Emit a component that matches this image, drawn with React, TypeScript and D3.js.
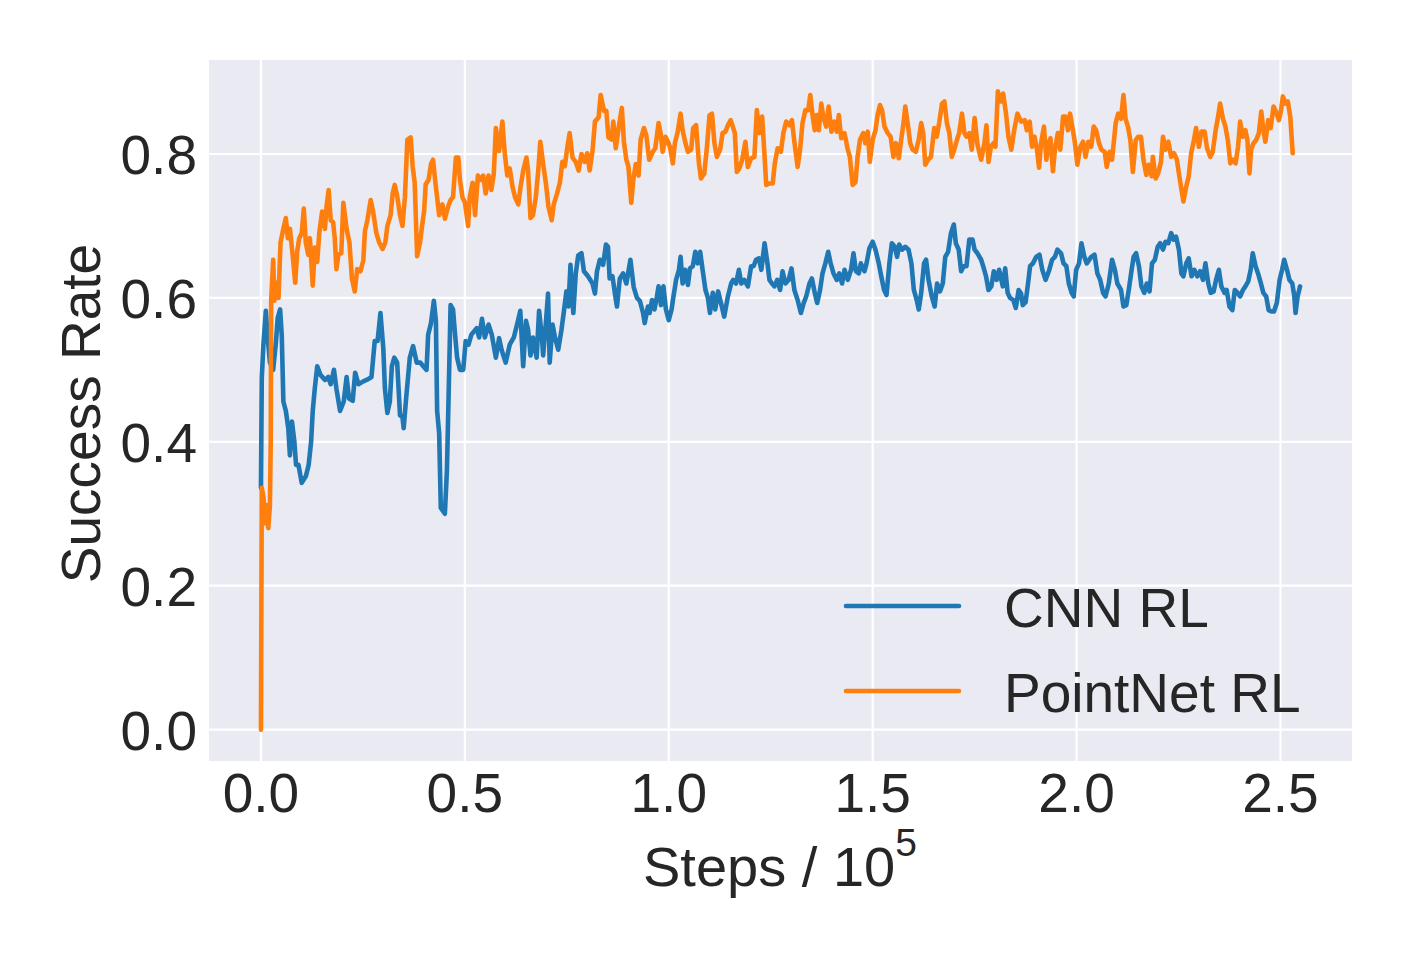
import React from 'react';
import * as d3 from 'd3';

// values: [steps / 1e5, success rate]
const cnnRL: [number, number][] = [
  [0.000, 0.336], [0.002, 0.488], [0.006, 0.535], [0.012, 0.582], [0.016, 0.548], [0.022, 0.51],
  [0.030, 0.50], [0.037, 0.54], [0.041, 0.572], [0.047, 0.584], [0.051, 0.548], [0.055, 0.456],
  [0.061, 0.443], [0.067, 0.419], [0.071, 0.381], [0.076, 0.428], [0.082, 0.40], [0.086, 0.368],
  [0.092, 0.368], [0.100, 0.343], [0.110, 0.352], [0.117, 0.368], [0.123, 0.40], [0.127, 0.443],
  [0.132, 0.474], [0.138, 0.505], [0.146, 0.493], [0.157, 0.486], [0.165, 0.49], [0.171, 0.48],
  [0.179, 0.50], [0.185, 0.474], [0.194, 0.443], [0.203, 0.456], [0.210, 0.49], [0.216, 0.46],
  [0.225, 0.457], [0.231, 0.496], [0.239, 0.48], [0.251, 0.484], [0.263, 0.487], [0.271, 0.49],
  [0.279, 0.54], [0.286, 0.54], [0.293, 0.579], [0.300, 0.53], [0.304, 0.474], [0.310, 0.44],
  [0.316, 0.456], [0.321, 0.505], [0.327, 0.517], [0.334, 0.51], [0.341, 0.437], [0.347, 0.434],
  [0.350, 0.419], [0.357, 0.467], [0.365, 0.517], [0.373, 0.533], [0.382, 0.51], [0.391, 0.51],
  [0.398, 0.505], [0.406, 0.50], [0.410, 0.549], [0.417, 0.565], [0.424, 0.596], [0.429, 0.568],
  [0.432, 0.443], [0.437, 0.412], [0.441, 0.308], [0.451, 0.30], [0.456, 0.36], [0.460, 0.46],
  [0.465, 0.59], [0.471, 0.584], [0.476, 0.549], [0.481, 0.517], [0.488, 0.50], [0.496, 0.50],
  [0.502, 0.54], [0.509, 0.535], [0.516, 0.549], [0.529, 0.558], [0.535, 0.545], [0.542, 0.571],
  [0.549, 0.545], [0.558, 0.563], [0.566, 0.549], [0.576, 0.517], [0.584, 0.544], [0.590, 0.528],
  [0.600, 0.51], [0.610, 0.535], [0.620, 0.545], [0.628, 0.563], [0.636, 0.582], [0.643, 0.505],
  [0.650, 0.568], [0.655, 0.556], [0.661, 0.52], [0.667, 0.545], [0.676, 0.517], [0.682, 0.582],
  [0.689, 0.545], [0.692, 0.52], [0.699, 0.568], [0.704, 0.606], [0.708, 0.51], [0.715, 0.563],
  [0.721, 0.545], [0.729, 0.528], [0.737, 0.556], [0.743, 0.582], [0.749, 0.609], [0.754, 0.588],
  [0.759, 0.646], [0.766, 0.579], [0.772, 0.634], [0.778, 0.659], [0.786, 0.662], [0.792, 0.637],
  [0.802, 0.63], [0.813, 0.62], [0.819, 0.606], [0.824, 0.637], [0.831, 0.653], [0.839, 0.646],
  [0.846, 0.674], [0.851, 0.671], [0.855, 0.627], [0.862, 0.63], [0.868, 0.606], [0.873, 0.588],
  [0.880, 0.627], [0.888, 0.634], [0.896, 0.62], [0.906, 0.653], [0.914, 0.615], [0.922, 0.60],
  [0.929, 0.596], [0.937, 0.579], [0.941, 0.565], [0.949, 0.588],
  [0.953, 0.579], [0.959, 0.597], [0.965, 0.584], [0.971, 0.602], [0.975, 0.616], [0.981, 0.59],
  [0.987, 0.616], [0.993, 0.584], [1.000, 0.569], [1.007, 0.584], [1.011, 0.60], [1.018, 0.625],
  [1.025, 0.639], [1.029, 0.657], [1.034, 0.62], [1.040, 0.639], [1.047, 0.618], [1.052, 0.641],
  [1.059, 0.644], [1.065, 0.664], [1.071, 0.648], [1.077, 0.664], [1.083, 0.639], [1.090, 0.611],
  [1.096, 0.60], [1.101, 0.579], [1.108, 0.607], [1.114, 0.584], [1.121, 0.609], [1.128, 0.593],
  [1.136, 0.574], [1.145, 0.602], [1.153, 0.62], [1.158, 0.625], [1.165, 0.62], [1.172, 0.639],
  [1.178, 0.62], [1.185, 0.625], [1.194, 0.616], [1.202, 0.644], [1.208, 0.644], [1.214, 0.653],
  [1.221, 0.655], [1.227, 0.639], [1.235, 0.676], [1.242, 0.648], [1.247, 0.625], [1.253, 0.62],
  [1.259, 0.616], [1.266, 0.625], [1.273, 0.611], [1.279, 0.637], [1.286, 0.62], [1.294, 0.625],
  [1.301, 0.641], [1.308, 0.611], [1.316, 0.597], [1.324, 0.579], [1.331, 0.593], [1.337, 0.602],
  [1.345, 0.62], [1.351, 0.627], [1.358, 0.607], [1.364, 0.593], [1.371, 0.611], [1.377, 0.634],
  [1.384, 0.648], [1.391, 0.664], [1.397, 0.648], [1.404, 0.634], [1.412, 0.625], [1.418, 0.634],
  [1.425, 0.62], [1.431, 0.639], [1.439, 0.625], [1.447, 0.639], [1.453, 0.662], [1.459, 0.637],
  [1.466, 0.634], [1.471, 0.648], [1.480, 0.637], [1.485, 0.648], [1.492, 0.669], [1.500, 0.678],
  [1.507, 0.667], [1.515, 0.648], [1.521, 0.63], [1.528, 0.611], [1.534, 0.604], [1.541, 0.648],
  [1.547, 0.676], [1.554, 0.671], [1.560, 0.657], [1.565, 0.674], [1.572, 0.667], [1.580, 0.671],
  [1.588, 0.667], [1.595, 0.648], [1.601, 0.611], [1.608, 0.597], [1.613, 0.584], [1.619, 0.607],
  [1.626, 0.648], [1.631, 0.653], [1.637, 0.625], [1.645, 0.602], [1.652, 0.588], [1.658, 0.62],
  [1.665, 0.609], [1.672, 0.62], [1.678, 0.657], [1.685, 0.664], [1.692, 0.69], [1.699, 0.702],
  [1.704, 0.676], [1.711, 0.667], [1.717, 0.637], [1.723, 0.644], [1.730, 0.644], [1.737, 0.681],
  [1.745, 0.681], [1.750, 0.667], [1.757, 0.662], [1.766, 0.653], [1.771, 0.644], [1.778, 0.63],
  [1.784, 0.611], [1.791, 0.616], [1.797, 0.637], [1.804, 0.625], [1.810, 0.639], [1.819, 0.616],
  [1.825, 0.641], [1.831, 0.607], [1.837, 0.60], [1.845, 0.597], [1.851, 0.586], [1.858, 0.611],
  [1.864, 0.606], [1.868, 0.590], [1.875, 0.594], [1.881, 0.620], [1.886, 0.644], [1.893, 0.648],
  [1.901, 0.657], [1.909, 0.660], [1.916, 0.639], [1.924, 0.625], [1.932, 0.637], [1.940, 0.653],
  [1.947, 0.657], [1.953, 0.667], [1.962, 0.662], [1.968, 0.648], [1.975, 0.644], [1.981, 0.620],
  [1.988, 0.607], [1.993, 0.602], [1.999, 0.639], [2.006, 0.648], [2.012, 0.676], [2.019, 0.657],
  [2.025, 0.648], [2.036, 0.657], [2.044, 0.660], [2.051, 0.634], [2.058, 0.625], [2.065, 0.607],
  [2.071, 0.602], [2.079, 0.620], [2.087, 0.653], [2.094, 0.639], [2.100, 0.620], [2.109, 0.611],
  [2.115, 0.588], [2.122, 0.590], [2.128, 0.611], [2.135, 0.639], [2.140, 0.657], [2.146, 0.662],
  [2.153, 0.644], [2.159, 0.616], [2.166, 0.607], [2.172, 0.620], [2.179, 0.609], [2.185, 0.648],
  [2.192, 0.653], [2.199, 0.671], [2.205, 0.676], [2.212, 0.667], [2.218, 0.678], [2.225, 0.676],
  [2.232, 0.690], [2.238, 0.681], [2.244, 0.685], [2.251, 0.667], [2.257, 0.634], [2.262, 0.630],
  [2.269, 0.648], [2.275, 0.655], [2.282, 0.630], [2.289, 0.639], [2.296, 0.630], [2.303, 0.637],
  [2.310, 0.625], [2.316, 0.648], [2.323, 0.620], [2.329, 0.607], [2.336, 0.609], [2.342, 0.625],
  [2.349, 0.639], [2.355, 0.616], [2.363, 0.607], [2.368, 0.611], [2.375, 0.588], [2.382, 0.583],
  [2.388, 0.611], [2.395, 0.607], [2.401, 0.602], [2.408, 0.611], [2.414, 0.616], [2.421, 0.623],
  [2.427, 0.639], [2.432, 0.662], [2.439, 0.644], [2.445, 0.634], [2.452, 0.620], [2.458, 0.607],
  [2.465, 0.602], [2.471, 0.583], [2.478, 0.581], [2.484, 0.581], [2.491, 0.593], [2.498, 0.625],
  [2.504, 0.639], [2.509, 0.653], [2.516, 0.639], [2.522, 0.625], [2.529, 0.620], [2.534, 0.602],
  [2.537, 0.579], [2.542, 0.602], [2.548, 0.616],
];

const pointNetRL: [number, number][] = [
  [0.000, 0.0], [0.002, 0.336], [0.006, 0.324], [0.010, 0.287], [0.014, 0.312], [0.018, 0.28],
  [0.022, 0.312], [0.024, 0.40], [0.025, 0.596], [0.030, 0.653], [0.033, 0.596], [0.038, 0.621],
  [0.043, 0.60], [0.048, 0.677], [0.055, 0.696], [0.061, 0.711], [0.066, 0.683], [0.071, 0.696],
  [0.078, 0.658], [0.084, 0.621], [0.089, 0.665], [0.094, 0.683], [0.100, 0.69], [0.105, 0.724],
  [0.110, 0.677], [0.116, 0.66], [0.120, 0.683], [0.127, 0.617], [0.132, 0.67], [0.138, 0.65],
  [0.143, 0.69], [0.150, 0.72], [0.157, 0.696], [0.161, 0.728], [0.166, 0.75], [0.171, 0.708],
  [0.177, 0.705], [0.181, 0.683], [0.185, 0.64], [0.190, 0.66], [0.197, 0.662], [0.202, 0.732],
  [0.210, 0.696], [0.217, 0.677], [0.223, 0.627], [0.230, 0.609], [0.236, 0.64], [0.244, 0.637],
  [0.251, 0.652], [0.255, 0.693], [0.261, 0.708], [0.269, 0.736], [0.275, 0.72], [0.283, 0.69],
  [0.290, 0.677], [0.298, 0.668], [0.305, 0.677], [0.310, 0.70], [0.318, 0.715], [0.323, 0.745],
  [0.328, 0.757], [0.334, 0.742], [0.341, 0.715], [0.347, 0.70], [0.353, 0.74], [0.359, 0.82],
  [0.367, 0.823], [0.372, 0.783], [0.377, 0.76], [0.383, 0.658], [0.390, 0.677], [0.395, 0.70],
  [0.400, 0.72], [0.404, 0.758], [0.411, 0.764], [0.417, 0.786], [0.422, 0.792], [0.427, 0.764],
  [0.432, 0.74], [0.437, 0.715], [0.445, 0.73], [0.451, 0.71], [0.459, 0.727], [0.465, 0.736],
  [0.471, 0.74], [0.478, 0.795], [0.484, 0.795], [0.488, 0.764], [0.494, 0.74], [0.500, 0.733],
  [0.508, 0.70], [0.512, 0.74], [0.519, 0.76], [0.525, 0.715], [0.532, 0.77], [0.538, 0.764],
  [0.545, 0.77], [0.551, 0.745], [0.558, 0.77], [0.565, 0.75], [0.571, 0.773], [0.576, 0.836],
  [0.584, 0.804], [0.592, 0.845], [0.598, 0.80], [0.604, 0.77], [0.610, 0.78], [0.617, 0.754],
  [0.623, 0.74], [0.631, 0.73], [0.636, 0.752], [0.643, 0.777], [0.651, 0.795], [0.655, 0.777],
  [0.661, 0.711], [0.667, 0.715], [0.674, 0.74], [0.680, 0.777], [0.685, 0.817], [0.692, 0.786],
  [0.699, 0.758], [0.705, 0.727], [0.713, 0.708], [0.718, 0.73], [0.726, 0.745], [0.733, 0.76],
  [0.739, 0.789], [0.745, 0.783], [0.751, 0.808], [0.757, 0.829], [0.764, 0.795], [0.772, 0.789],
  [0.779, 0.777], [0.786, 0.80], [0.794, 0.789], [0.800, 0.801], [0.806, 0.777], [0.813, 0.804],
  [0.819, 0.845], [0.828, 0.851], [0.833, 0.882], [0.841, 0.86], [0.847, 0.86], [0.852, 0.823],
  [0.860, 0.82], [0.864, 0.845], [0.870, 0.808], [0.877, 0.836], [0.885, 0.864], [0.890, 0.817],
  [0.896, 0.792], [0.901, 0.783], [0.908, 0.732], [0.913, 0.764], [0.919, 0.786], [0.926, 0.77],
  [0.931, 0.82], [0.939, 0.836], [0.945, 0.826], [0.952, 0.792],
  [0.961, 0.803], [0.967, 0.808], [0.975, 0.843], [0.980, 0.829], [0.985, 0.803], [0.992, 0.824],
  [0.998, 0.817], [1.003, 0.81], [1.010, 0.787], [1.015, 0.815], [1.022, 0.831], [1.029, 0.856],
  [1.034, 0.833], [1.041, 0.815], [1.047, 0.803], [1.055, 0.806], [1.060, 0.836], [1.067, 0.84],
  [1.074, 0.787], [1.079, 0.766], [1.087, 0.773], [1.093, 0.806], [1.100, 0.854], [1.106, 0.856],
  [1.112, 0.815], [1.118, 0.796], [1.126, 0.806], [1.132, 0.829], [1.139, 0.831], [1.145, 0.84],
  [1.152, 0.847], [1.157, 0.838], [1.162, 0.829], [1.167, 0.775], [1.173, 0.78], [1.180, 0.792],
  [1.188, 0.817], [1.194, 0.782], [1.202, 0.794], [1.210, 0.796], [1.216, 0.861], [1.222, 0.829],
  [1.229, 0.852], [1.234, 0.806], [1.239, 0.757], [1.247, 0.759], [1.255, 0.759], [1.260, 0.787],
  [1.267, 0.808], [1.275, 0.803], [1.281, 0.829], [1.288, 0.845], [1.296, 0.84], [1.302, 0.847],
  [1.308, 0.817], [1.316, 0.782], [1.322, 0.806], [1.328, 0.843], [1.335, 0.861], [1.342, 0.861],
  [1.347, 0.882], [1.353, 0.852], [1.358, 0.833], [1.363, 0.854], [1.368, 0.833], [1.374, 0.87],
  [1.379, 0.852], [1.386, 0.838], [1.392, 0.866], [1.399, 0.831], [1.406, 0.845], [1.412, 0.831],
  [1.417, 0.854], [1.423, 0.822], [1.431, 0.829], [1.439, 0.806], [1.444, 0.796], [1.451, 0.757],
  [1.458, 0.761], [1.463, 0.796], [1.469, 0.82], [1.477, 0.829], [1.482, 0.815], [1.488, 0.831],
  [1.493, 0.789], [1.500, 0.82], [1.507, 0.833], [1.512, 0.854], [1.518, 0.868], [1.523, 0.861],
  [1.529, 0.838], [1.537, 0.829], [1.544, 0.824], [1.551, 0.796], [1.557, 0.815], [1.564, 0.794],
  [1.570, 0.82], [1.575, 0.84], [1.580, 0.866], [1.587, 0.838], [1.592, 0.815], [1.598, 0.806],
  [1.606, 0.803], [1.613, 0.82], [1.619, 0.843], [1.624, 0.829], [1.629, 0.785], [1.636, 0.792],
  [1.643, 0.796], [1.651, 0.836], [1.657, 0.824], [1.663, 0.843], [1.670, 0.87], [1.676, 0.873],
  [1.682, 0.843], [1.688, 0.829], [1.694, 0.796], [1.700, 0.806], [1.708, 0.822], [1.712, 0.829],
  [1.719, 0.856], [1.725, 0.829], [1.730, 0.824], [1.737, 0.829], [1.743, 0.806], [1.750, 0.85],
  [1.757, 0.813], [1.766, 0.792], [1.774, 0.815], [1.779, 0.84], [1.784, 0.789], [1.790, 0.81],
  [1.796, 0.815], [1.801, 0.81], [1.807, 0.887], [1.815, 0.873], [1.820, 0.884], [1.827, 0.856],
  [1.833, 0.824], [1.840, 0.806], [1.847, 0.833], [1.855, 0.856],
  [1.864, 0.845], [1.873, 0.847], [1.878, 0.833], [1.885, 0.845], [1.891, 0.81], [1.897, 0.824],
  [1.903, 0.806], [1.908, 0.781], [1.913, 0.815], [1.920, 0.838], [1.926, 0.792], [1.932, 0.815],
  [1.936, 0.822], [1.942, 0.776], [1.947, 0.806], [1.954, 0.829], [1.960, 0.806], [1.967, 0.852],
  [1.973, 0.852], [1.979, 0.833], [1.984, 0.856], [1.991, 0.833], [1.996, 0.815], [2.002, 0.785],
  [2.009, 0.81], [2.016, 0.817], [2.022, 0.796], [2.029, 0.817], [2.036, 0.81], [2.042, 0.838],
  [2.048, 0.833], [2.055, 0.815], [2.061, 0.806], [2.069, 0.803], [2.074, 0.782], [2.081, 0.803],
  [2.087, 0.792], [2.096, 0.843], [2.102, 0.856], [2.109, 0.849], [2.115, 0.882], [2.120, 0.849],
  [2.126, 0.838], [2.132, 0.819], [2.138, 0.775], [2.145, 0.819], [2.151, 0.824], [2.158, 0.824],
  [2.164, 0.792], [2.171, 0.771], [2.177, 0.785], [2.184, 0.769], [2.187, 0.796], [2.194, 0.766],
  [2.200, 0.773], [2.207, 0.789], [2.212, 0.824], [2.218, 0.806], [2.225, 0.817], [2.232, 0.796],
  [2.239, 0.801], [2.246, 0.792], [2.252, 0.769], [2.258, 0.748], [2.262, 0.734], [2.269, 0.755],
  [2.275, 0.769], [2.281, 0.801], [2.287, 0.817], [2.293, 0.836], [2.300, 0.81], [2.306, 0.831],
  [2.314, 0.831], [2.320, 0.808], [2.328, 0.796], [2.334, 0.803], [2.341, 0.833], [2.347, 0.852],
  [2.352, 0.87], [2.359, 0.849], [2.365, 0.838], [2.371, 0.819], [2.377, 0.787], [2.383, 0.792],
  [2.390, 0.787], [2.396, 0.81], [2.401, 0.845], [2.408, 0.824], [2.414, 0.833], [2.419, 0.819],
  [2.424, 0.773], [2.428, 0.806], [2.434, 0.815], [2.440, 0.819], [2.447, 0.829], [2.453, 0.859],
  [2.458, 0.833], [2.463, 0.817], [2.470, 0.847], [2.476, 0.836], [2.483, 0.866], [2.489, 0.859],
  [2.496, 0.847], [2.501, 0.859], [2.506, 0.88], [2.512, 0.87], [2.518, 0.873], [2.524, 0.852],
  [2.530, 0.801],
];

const xTicks = [0, 0.5, 1.0, 1.5, 2.0, 2.5];
const yTicks = [0, 0.2, 0.4, 0.6, 0.8];
const seriesNames = ['CNN RL', 'PointNet RL'];
const seriesColors = ['#1f77b4', '#ff7f0e'];

const W = 1411;
const H = 960;
const plot = { left: 209, top: 60, right: 1352, bottom: 761 };
const font = '"Liberation Sans", Arial, sans-serif';
const ink = '#262626';
const fs = 55;

export default function App() {
  const x = d3.scaleLinear().domain([-0.1274, 2.6754]).range([plot.left, plot.right]);
  const y = d3.scaleLinear().domain([-0.0436, 0.9306]).range([plot.bottom, plot.top]);
  const line = d3.line<[number, number]>().x(d => x(d[0])).y(d => y(d[1]));
  const series = [cnnRL, pointNetRL];

  return (
    <svg width={W} height={H} style={{ position: 'absolute', left: 0, top: 0, background: '#fff' }}
      fontFamily={font}>
      <defs>
        <clipPath id="plot-clip">
          <rect x={plot.left} y={plot.top} width={plot.right - plot.left} height={plot.bottom - plot.top} />
        </clipPath>
      </defs>
      <rect x={plot.left} y={plot.top} width={plot.right - plot.left} height={plot.bottom - plot.top} fill="#eaeaf2" />

      {/* grid */}
      {xTicks.map(t => (
        <line key={'gx' + t} x1={x(t)} x2={x(t)} y1={plot.top} y2={plot.bottom} stroke="#fff" strokeWidth={2.2} />
      ))}
      {yTicks.map(t => (
        <line key={'gy' + t} x1={plot.left} x2={plot.right} y1={y(t)} y2={y(t)} stroke="#fff" strokeWidth={2.2} />
      ))}

      {/* lines */}
      <g clipPath="url(#plot-clip)">
        {series.map((s, i) => (
          <path key={seriesNames[i]} d={line(s) || ''} fill="none" stroke={seriesColors[i]}
            strokeWidth={4.6} strokeLinejoin="round" strokeLinecap="round" />
        ))}
      </g>

      {/* tick labels */}
      {xTicks.map(t => (
        <text key={'tx' + t} x={x(t)} y={812} textAnchor="middle" fontSize={fs} fill={ink}>
          {d3.format('.1f')(t)}
        </text>
      ))}
      {yTicks.map(t => (
        <text key={'ty' + t} x={197} y={y(t) + 20} textAnchor="end" fontSize={fs} fill={ink}>
          {d3.format('.1f')(t)}
        </text>
      ))}

      {/* axis labels */}
      <text x={643} y={886} fontSize={fs + 1} fill={ink}>
        Steps / 10<tspan fontSize={39} dy={-30}>5</tspan>
      </text>
      <text transform={`translate(100, ${(plot.top + plot.bottom) / 2 + 3}) rotate(-90)`} textAnchor="middle"
        fontSize={fs} fill={ink}>
        Success Rate
      </text>

      {/* legend */}
      {seriesNames.map((name, i) => (
        <g key={'lg' + name} transform={`translate(0, ${606 + i * 85})`}>
          <line x1={846} x2={959} y1={0} y2={0} stroke={seriesColors[i]} strokeWidth={4.6} strokeLinecap="round" />
          <text x={1004} y={21} fontSize={fs} fill={ink}>{name}</text>
        </g>
      ))}
    </svg>
  );
}
